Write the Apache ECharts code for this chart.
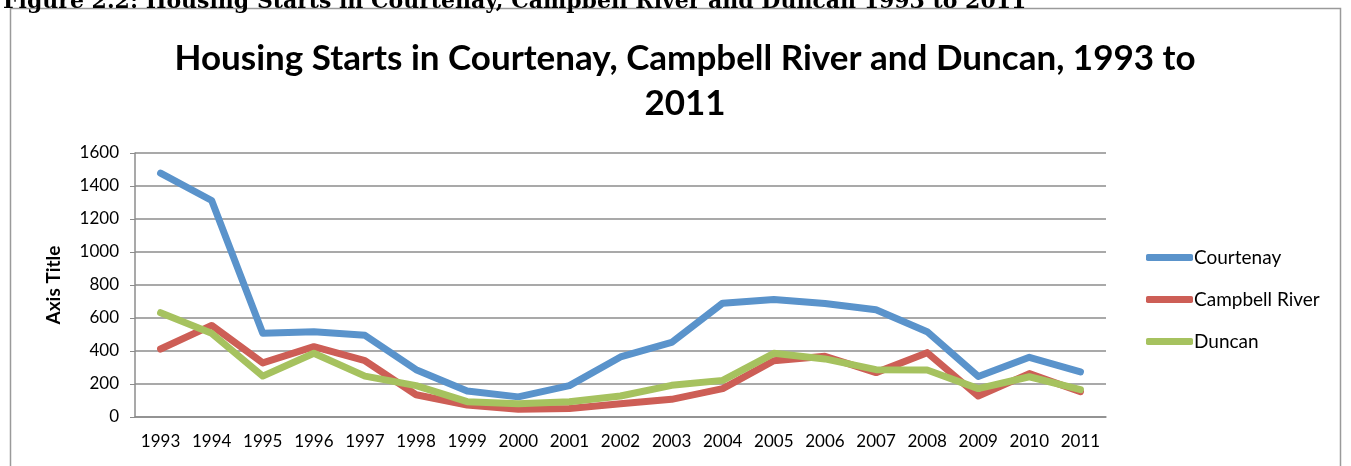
<!DOCTYPE html>
<html>
<head>
<meta charset="utf-8">
<script src="https://cdn.jsdelivr.net/npm/echarts@6/dist/echarts.min.js"></script>
<style>
  html, body { margin: 0; padding: 0; background: #fff; }
  #chart { width: 1351px; height: 466px; }
</style>
</head>
<body>
<div id="chart"></div>
<script>
var years = ['1993', '1994', '1995', '1996', '1997', '1998', '1999', '2000', '2001', '2002',
             '2003', '2004', '2005', '2006', '2007', '2008', '2009', '2010', '2011'];
var courtenay = [1478, 1312, 507, 517, 495, 287, 158, 122, 190, 364, 452, 690, 712, 688, 650, 517, 246, 362, 273];
var campbellRiver = [412, 555, 328, 426, 341, 135, 73, 47, 51, 80, 107, 172, 341, 368, 269, 390, 127, 263, 153];
var duncan = [632, 507, 248, 386, 248, 190, 93, 80, 92, 127, 192, 222, 386, 352, 287, 285, 172, 244, 166];
var seriesNames = ['Courtenay', 'Campbell River', 'Duncan'];
var colors = ['#5a93cb', '#cd5e56', '#a6c25f'];

var font = 'Lato, "Open Sans", sans-serif';
var chart = echarts.init(document.getElementById('chart'));

function line(name, data, color) {
    return {
        name: name,
        type: 'line',
        data: data,
        symbol: 'none',
        lineStyle: { width: 7, color: color, cap: 'round', join: 'round' },
        itemStyle: { color: color }
    };
}

chart.setOption({
    animation: false,
    backgroundColor: '#fff',
    title: [{
        text: 'Figure 2.2: Housing Starts in Courtenay, Campbell River and Duncan 1993 to 2011',
        left: -2,
        top: -14,
        textStyle: { fontFamily: '"DejaVu Serif", serif', fontWeight: 'bold', fontSize: 22, color: '#000' }
    }, {
        text: 'Housing Starts in Courtenay, Campbell River and Duncan, 1993 to\n2011',
        left: 680,
        top: 31,
        textAlign: 'center',
        textStyle: { fontFamily: font, fontWeight: 'bold', fontSize: 35, lineHeight: 45, color: '#000' }
    }],
    graphic: [{
        type: 'rect',
        shape: { x: 10.5, y: 8.5, width: 1330, height: 470 },
        style: { fill: 'none', stroke: '#9a9a9a', lineWidth: 1.5 },
        silent: true
    }],
    legend: {
        orient: 'vertical',
        left: 1141,
        top: 243,
        itemGap: 23,
        itemWidth: 47,
        itemHeight: 7,
        icon: 'roundRect',
        textStyle: { fontFamily: font, fontSize: 19, color: '#000', padding: [0, 0, 0, -4] },
        data: seriesNames
    },
    grid: { left: 135, right: 245, top: 153, bottom: 49 },
    xAxis: {
        type: 'category',
        data: years,
        boundaryGap: true,
        axisLine: { show: true, lineStyle: { color: '#8c8c8c', width: 1.5 } },
        axisTick: { show: false },
        axisLabel: { fontFamily: font, fontSize: 17, color: '#000', margin: 16, interval: 0 }
    },
    yAxis: {
        type: 'value',
        min: 0,
        max: 1600,
        interval: 200,
        name: 'Axis Title',
        nameLocation: 'middle',
        nameRotate: 90,
        nameGap: 72,
        nameTextStyle: { fontFamily: font, fontWeight: 'bold', fontSize: 19, color: '#000' },
        axisLine: { show: true, lineStyle: { color: '#8c8c8c', width: 1.5 } },
        axisTick: { show: true, length: 5, inside: false, lineStyle: { color: '#8c8c8c' } },
        splitLine: { show: true, lineStyle: { color: '#8c8c8c', width: 1.5 } },
        axisLabel: {
            fontFamily: font, fontSize: 17, color: '#000', margin: 16,
            formatter: function (v) { return String(v); }
        }
    },
    series: [
        line(seriesNames[0], courtenay, colors[0]),
        line(seriesNames[1], campbellRiver, colors[1]),
        line(seriesNames[2], duncan, colors[2])
    ]
});
</script>
</body>
</html>
